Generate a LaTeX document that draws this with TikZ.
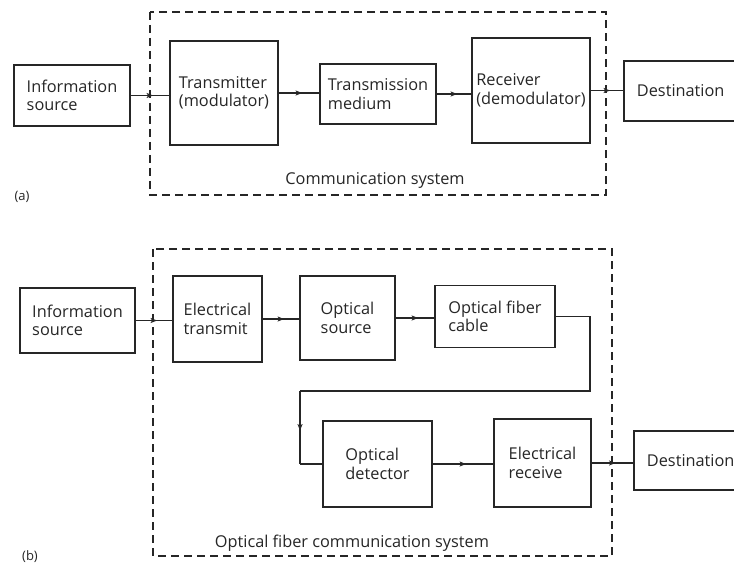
\documentclass[tikz,border=0pt]{standalone}
\usepackage{fontspec}
\setmainfont{Open Sans}
\usetikzlibrary{decorations.markings}
\definecolor{ink}{HTML}{262626}
\tikzset{
  blk/.style={draw=ink, line width=1.9pt, text=ink, align=left, inner sep=0pt,
    font=\fontsize{16.3}{18.5}\selectfont},
  dst/.style={blk, anchor=west, text width=100pt, inner xsep=13pt, inner ysep=0pt},
  conn/.style={draw=ink, line width=1.1pt},
  midarrow/.style={conn, postaction={decorate}, decoration={markings,
    mark=at position 0.5 with {\fill[ink] (3pt,0pt) -- (-3.5pt,2.6pt) -- (-2pt,0pt) -- (-3.5pt,-2.6pt) -- cycle;}}},
  sysbox/.style={draw=ink, line width=1.4pt, dash pattern=on 8pt off 5pt},
  lbl/.style={text=ink, font=\fontsize{16.3}{18.5}\selectfont, inner sep=0pt},
  tag/.style={text=ink, font=\fontsize{13}{15}\selectfont, inner sep=0pt}
}
\begin{document}
\begin{tikzpicture}[x=1pt,y=-1pt]
\useasboundingbox (0,0) rectangle (734,567);
\fill[white] (0,0) rectangle (734,567);

% ---------- (a) ----------
\draw[sysbox] (150,12) rectangle (606,195);
\node[blk, minimum width=116pt, minimum height=61pt] (srcA) at (72,95.5) {Information\\source};
\node[blk, minimum width=108pt, minimum height=104pt] (tx) at (224,93) {Transmitter\\(modulator)};
\node[blk, minimum width=116pt, minimum height=60pt] (tm) at (378,94) {Transmission\\medium};
\node[blk, minimum width=118pt, minimum height=105pt] (rx) at (531,90.5) {Receiver\\(demodulator)};
\node[dst, minimum height=60pt] (dstA) at (623,91) {Destination};
\node[lbl] (labA) at (375,180) {Communication system};
\node[tag] (tagA) at (22,197) {(a)};

\draw[midarrow] (srcA.east) -- (srcA.east -| tx.west);
\draw[midarrow] (tx.east) -- (tx.east -| tm.west);
\draw[midarrow] (tm.east) -- (tm.east -| rx.west);
\draw[midarrow] (rx.east) -- (rx.east -| dstA.west);

% ---------- (b) ----------
\draw[sysbox] (153,249) rectangle (612,556);
\node[blk, minimum width=115pt, minimum height=65pt] (srcB) at (77.5,320.5) {Information\\source};
\node[blk, minimum width=89pt, minimum height=86pt] (etx) at (217.5,319) {Electrical\\transmit};
\node[blk, minimum width=95pt, minimum height=84pt] (osrc) at (347.5,318) {Optical\\source};
\node[blk, minimum width=120pt, minimum height=62pt] (fib) at (495,316.5) {Optical fiber\\cable};
\node[blk, minimum width=109pt, minimum height=86pt] (det) at (377.5,464) {Optical\\detector};
\node[blk, minimum width=97pt, minimum height=88pt] (erx) at (542.5,463) {Electrical\\receive};
\node[dst, minimum height=59pt] (dstB) at (633,460.5) {Destination};
\node[lbl] (labB) at (352,543) {Optical fiber communication system};
\node[tag] (tagB) at (30,557) {(b)};

\coordinate (c1) at (590,391);
\coordinate (c2) at (300,391);
\draw[midarrow] (srcB.east) -- (srcB.east -| etx.west);
\draw[midarrow] (etx.east) -- (etx.east -| osrc.west);
\draw[midarrow] (osrc.east) -- (osrc.east -| fib.west);
\draw[conn] (fib.east) -| (c1) -- (c2);
\draw[midarrow] (c2) -- (c2 |- det.west);
\draw[conn] (c2 |- det.west) -- (det.west);
\draw[midarrow] (det.east) -- (det.east -| erx.west);
\draw[midarrow] (erx.east) -- (erx.east -| dstB.west);
\end{tikzpicture}
\end{document}
